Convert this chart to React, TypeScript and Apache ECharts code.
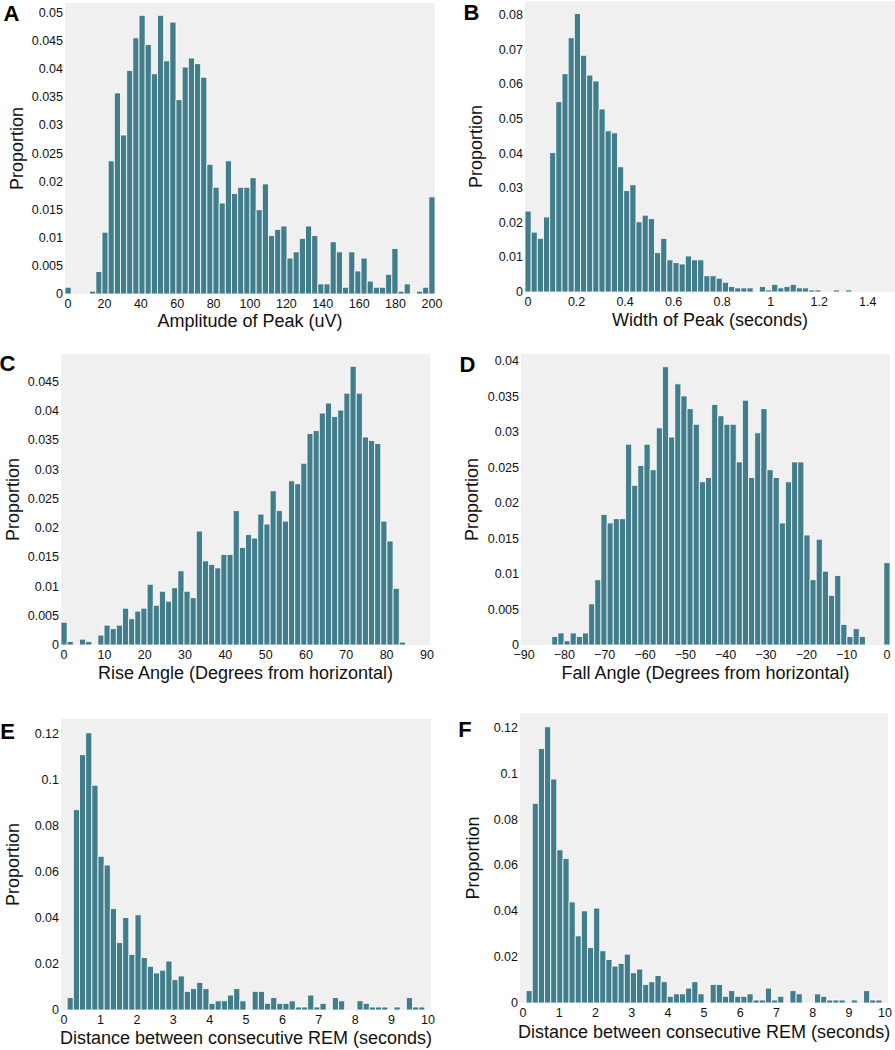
import React, { useEffect, useRef } from 'react';
import * as echarts from 'echarts';

// ---------- data (proportions per histogram bin, 60 bins each) ----------
const amplitudeRange = [0, 200];
const amplitudeValues = [
  0.0012, 0, 0, 0, 0.0005, 0.004, 0.011, 0.0237, 0.0358, 0.0283,
  0.0398, 0.0456, 0.0496, 0.0444, 0.0392, 0.0496, 0.0415, 0.0484, 0.0346, 0.0404,
  0.042, 0.041, 0.0386, 0.0231, 0.019, 0.0162, 0.0237, 0.0179, 0.019, 0.019,
  0.0207, 0.015, 0.0196, 0.0104, 0.0115, 0.0121, 0.0064, 0.0075, 0.0099, 0.0121,
  0.0104, 0.0018, 0.0018, 0.0093, 0.0075, 0.0012, 0.0075, 0.0041, 0.0064, 0.0023,
  0.0012, 0.0012, 0.0035, 0.0081, 0.0005, 0.0018, 0, 0.0005, 0.0012, 0.0173,
];
const amplitudeXTicks = [0, 20, 40, 60, 80, 100, 120, 140, 160, 180, 200];
const amplitudeYTicks = [0, 0.005, 0.01, 0.015, 0.02, 0.025, 0.03, 0.035, 0.04, 0.045, 0.05];

const widthRange = [0, 1.5];
const widthValues = [
  0.0234, 0.0173, 0.0155, 0.0217, 0.0403, 0.055, 0.0631, 0.0735, 0.0805, 0.0684,
  0.0627, 0.061, 0.0529, 0.0466, 0.046, 0.0362, 0.0293, 0.031, 0.0203, 0.0222,
  0.0212, 0.0114, 0.0155, 0.0093, 0.0085, 0.0081, 0.0104, 0.0093, 0.0093, 0.0047,
  0.0047, 0.004, 0.0028, 0.0016, 0.0012, 0.0012, 0.0012, 0, 0.0016, 0.0006,
  0.0022, 0.0012, 0.0016, 0.0022, 0.0012, 0.0012, 0.0006, 0.0006, 0, 0,
  0.0006, 0, 0.0006, 0, 0, 0, 0, 0, 0, 0,
];
const widthXTicks = [0, 0.2, 0.4, 0.6, 0.8, 1, 1.2, 1.4];
const widthYTicks = [0, 0.01, 0.02, 0.03, 0.04, 0.05, 0.06, 0.07, 0.08];

const riseRange = [0, 90];
const riseValues = [
  0.0039, 0.0006, 0, 0.001, 0.0006, 0, 0.0017, 0.0034, 0.0028, 0.0034,
  0.0063, 0.0045, 0.0058, 0.0063, 0.0104, 0.0068, 0.0092, 0.0075, 0.0098, 0.0127,
  0.0092, 0.0081, 0.0195, 0.0144, 0.0138, 0.0132, 0.0155, 0.0155, 0.023, 0.0167,
  0.0189, 0.0183, 0.0224, 0.0207, 0.0264, 0.023, 0.0212, 0.0281, 0.0276, 0.0311,
  0.0362, 0.0367, 0.0397, 0.0414, 0.0391, 0.0402, 0.0431, 0.0477, 0.0431, 0.0356,
  0.035, 0.0345, 0.0212, 0.0178, 0.0097, 0.0005, 0, 0, 0, 0,
];
const riseXTicks = [0, 10, 20, 30, 40, 50, 60, 70, 80, 90];
const riseYTicks = [0, 0.005, 0.01, 0.015, 0.02, 0.025, 0.03, 0.035, 0.04, 0.045];

const fallRange = [-90, 0];
const fallValues = [
  0, 0, 0, 0, 0, 0.0012, 0.0017, 0.0006, 0.0017, 0.0012,
  0.0017, 0.0058, 0.0092, 0.0184, 0.0172, 0.0178, 0.0178, 0.0283, 0.0225, 0.0253,
  0.0283, 0.0247, 0.0306, 0.0392, 0.0293, 0.0368, 0.0351, 0.0333, 0.0311, 0.023,
  0.0236, 0.0339, 0.0323, 0.0311, 0.0311, 0.0258, 0.0345, 0.0236, 0.0299, 0.0333,
  0.0247, 0.0236, 0.0172, 0.023, 0.0258, 0.0258, 0.0155, 0.0092, 0.0149, 0.0104,
  0.007, 0.0098, 0.0029, 0.0012, 0.0023, 0.0012, 0, 0, 0, 0.0116,
];
const fallXTicks = [-90, -80, -70, -60, -50, -40, -30, -20, -10, 0];
const fallYTicks = [0, 0.005, 0.01, 0.015, 0.02, 0.025, 0.03, 0.035, 0.04];

const remRange = [0, 10];
const remValues = [
  0, 0.0054, 0.0871, 0.111, 0.1205, 0.0977, 0.0668, 0.063, 0.0441, 0.0293,
  0.0402, 0.0242, 0.0414, 0.0228, 0.019, 0.0161, 0.0173, 0.0213, 0.0132, 0.0148,
  0.0081, 0.0093, 0.012, 0.0093, 0.0029, 0.004, 0.004, 0.0065, 0.0093, 0.004,
  0, 0.0081, 0.0081, 0.0029, 0.0054, 0.0029, 0.0029, 0.004, 0.0013, 0.0013,
  0.0065, 0.0013, 0.0029, 0, 0.0054, 0.004, 0, 0, 0.004, 0.0029,
  0.0013, 0.0013, 0.0013, 0, 0.0013, 0, 0.0054, 0.0013, 0.0013, 0,
];
const remXTicks = [0, 1, 2, 3, 4, 5, 6, 7, 8, 9, 10];
const remYTicks = [0, 0.02, 0.04, 0.06, 0.08, 0.1, 0.12];

// ---------- styling / layout ----------
const FONT = '"Liberation Sans", Arial, Helvetica, sans-serif';
const BAR_COLOR = '#417d8a';
const BG_COLOR = '#f0f0f0';
const TICK_FONT_SIZE = 12.5;

const panels = [
  { letter: 'A', values: amplitudeValues, range: amplitudeRange, xTicks: amplitudeXTicks, yTicks: amplitudeYTicks, yMax: 0.0518,
    xName: 'Amplitude of Peak (uV)', grid: { left: 65, top: 3, width: 370, height: 291 }, letterPos: [11.5, 13], nameGap: 18, yNameGap: 39 },
  { letter: 'B', values: widthValues, range: widthRange, xTicks: widthXTicks, yTicks: widthYTicks, yMax: 0.0841,
    xName: 'Width of Peak (seconds)', grid: { left: 525, top: 1, width: 370, height: 291 }, letterPos: [471.5, 12], nameGap: 19, yNameGap: 40 },
  { letter: 'C', values: riseValues, range: riseRange, xTicks: riseXTicks, yTicks: riseYTicks, yMax: 0.0498,
    xName: 'Rise Angle (Degrees from horizontal)', grid: { left: 61, top: 354, width: 369, height: 291 }, letterPos: [7.5, 363.5], nameGap: 19, yNameGap: 39 },
  { letter: 'D', values: fallValues, range: fallRange, xTicks: fallXTicks, yTicks: fallYTicks, yMax: 0.041,
    xName: 'Fall Angle (Degrees from horizontal)', grid: { left: 521, top: 354, width: 369, height: 291 }, letterPos: [467.5, 364], nameGap: 19, yNameGap: 40 },
  { letter: 'E', values: remValues, range: remRange, xTicks: remXTicks, yTicks: remYTicks, yMax: 0.1265,
    xName: 'Distance between consecutive REM (seconds)', grid: { left: 61, top: 719, width: 370, height: 291 }, letterPos: [7.5, 731], nameGap: 19, yNameGap: 39 },
  { letter: 'F', values: remValues, range: remRange, xTicks: remXTicks, yTicks: remYTicks, yMax: 0.1265,
    xName: 'Distance between consecutive REM (seconds)', grid: { left: 520, top: 713, width: 370, height: 290 }, letterPos: [465, 729], nameGap: 20, yNameGap: 38 },
];

const fmt = (v: number) => String(parseFloat(Number(v).toPrecision(6))).replace('-', '\u2212');

function buildOption() {
  const grid: any[] = [];
  const xAxis: any[] = [];
  const yAxis: any[] = [];
  const series: any[] = [];
  const graphic: any[] = [];

  panels.forEach((p, idx) => {
    const n = p.values.length;
    const step = (p.range[1] - p.range[0]) / (n - 1);
    grid.push({ ...p.grid, show: true, backgroundColor: BG_COLOR, borderWidth: 0, containLabel: false });
    xAxis.push({
      type: 'value',
      gridIndex: idx,
      min: p.range[0] - step / 2,
      max: p.range[1] + step / 2,
      name: p.xName,
      nameLocation: 'middle',
      nameGap: p.nameGap,
      nameTextStyle: { fontFamily: FONT, fontSize: 18, color: '#111' },
      axisLine: { show: false },
      axisTick: { show: false },
      splitLine: { show: false },
      axisLabel: {
        customValues: p.xTicks,
        formatter: fmt,
        fontFamily: FONT,
        fontSize: TICK_FONT_SIZE,
        color: '#111',
        margin: 3,
      },
    });
    yAxis.push({
      type: 'value',
      gridIndex: idx,
      min: 0,
      max: p.yMax,
      name: 'Proportion',
      nameLocation: 'middle',
      nameGap: p.yNameGap,
      nameTextStyle: { fontFamily: FONT, fontSize: 18, color: '#111' },
      axisLine: { show: false },
      axisTick: { show: false },
      splitLine: { show: false },
      axisLabel: {
        customValues: p.yTicks,
        formatter: fmt,
        fontFamily: FONT,
        fontSize: TICK_FONT_SIZE,
        color: '#111',
        margin: 2,
      },
    });
    const data = p.values
      .map((v, i) => [p.range[0] + i * step, v])
      .filter((d) => d[1] > 0);
    series.push({
      type: 'custom',
      xAxisIndex: idx,
      yAxisIndex: idx,
      data,
      encode: { x: 0, y: 1 },
      renderItem: (params: any, api: any) => {
        const xc = api.value(0);
        const v = api.value(1);
        const a = api.coord([xc - step / 2, v]);
        const b = api.coord([xc + step / 2, 0]);
        return {
          type: 'rect',
          shape: { x: a[0], y: a[1], width: b[0] - a[0], height: b[1] - a[1] },
          style: { fill: BAR_COLOR, stroke: '#ffffff', lineWidth: 0.8 },
        };
      },
    });
    graphic.push({
      type: 'text',
      x: p.letterPos[0],
      y: p.letterPos[1],
      style: {
        text: p.letter,
        fontFamily: FONT,
        fontSize: 22,
        fontWeight: 'bold',
        fill: '#000',
        align: 'center',
        verticalAlign: 'middle',
      },
    });
  });

  return {
    animation: false,
    backgroundColor: '#ffffff',
    grid,
    xAxis,
    yAxis,
    series,
    graphic,
  };
}

export default function App() {
  const ref = useRef<HTMLDivElement>(null);
  useEffect(() => {
    if (!ref.current) return;
    const chart = echarts.init(ref.current, undefined, { renderer: 'svg' });
    chart.setOption(buildOption());
    return () => chart.dispose();
  }, []);
  return (
    <div
      ref={ref}
      style={{ position: 'absolute', left: 0, top: 0, width: 895, height: 1050 }}
    />
  );
}
